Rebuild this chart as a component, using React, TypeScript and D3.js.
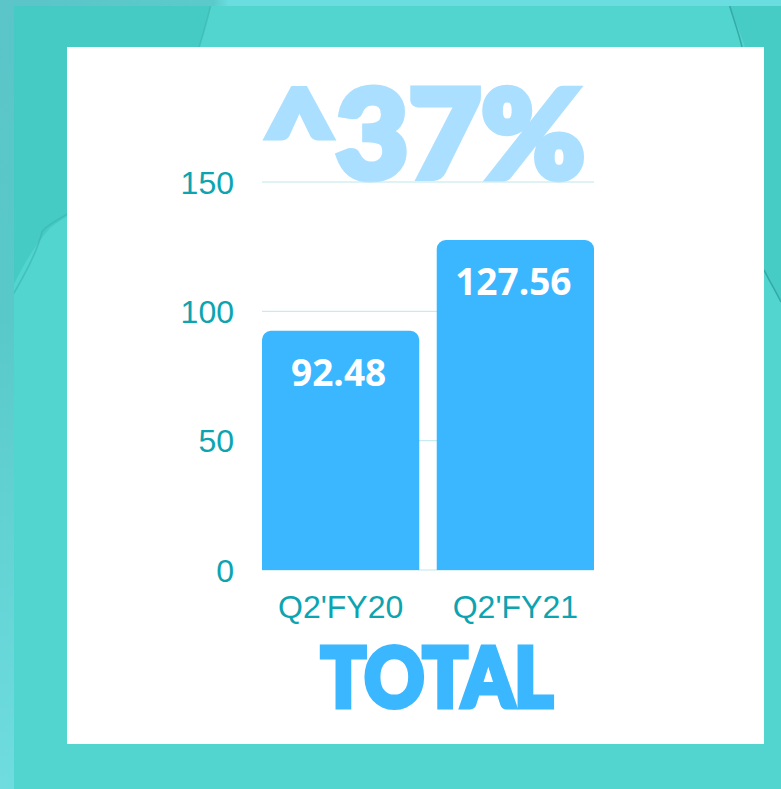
import React from "react";
import * as d3 from "d3";

const categories: string[] = ["Q2'FY20", "Q2'FY21"];
const totals: number[] = [92.48, 127.56];
const yTicks: number[] = [0, 50, 100, 150];
const headline = "^37%";
const footer = "TOTAL";

const W = 781;
const H = 789;

export default function App() {
  const x = d3.scaleBand<string>().domain(categories).range([262, 594]).paddingInner(0.1).paddingOuter(0);
  const y = d3.scaleLinear().domain([0, 150]).range([570, 182]);
  const r = 9;

  const barPath = (cat: string, v: number) => {
    const x0 = x(cat)!;
    const w = x.bandwidth();
    const y0 = y(v);
    const yb = y(0);
    const p = d3.path();
    p.moveTo(x0, yb);
    p.lineTo(x0, y0 + r);
    p.arcTo(x0, y0, x0 + r, y0, r);
    p.lineTo(x0 + w - r, y0);
    p.arcTo(x0 + w, y0, x0 + w, y0 + r, r);
    p.lineTo(x0 + w, yb);
    p.closePath();
    return p.toString();
  };

  return (
    <svg
      width={W}
      height={H}
      viewBox={`0 0 ${W} ${H}`}
      style={{ position: "absolute", left: 0, top: 0, display: "block" }}
    >
      <defs>
        <linearGradient id="leftStrip" x1="0" y1="0" x2="0" y2="1">
          <stop offset="0" stopColor="#5bc5c9" />
          <stop offset="0.4" stopColor="#58c9c8" />
          <stop offset="1" stopColor="#6fdde0" />
        </linearGradient>
        <linearGradient id="topStrip" x1="0" y1="0" x2="1" y2="0">
          <stop offset="0" stopColor="#5bc5c9" />
          <stop offset="0.26" stopColor="#5ccaca" />
          <stop offset="0.28" stopColor="#6adde0" />
          <stop offset="1" stopColor="#6adde0" />
        </linearGradient>
      </defs>
      {/* background */}
      <rect x={0} y={0} width={W} height={H} fill="#51d5ce" />
      <path d="M0,0 L212,0 C205,30 190,90 150,150 C120,190 80,205 50,228 C30,250 15,280 0,315 Z" fill="#45cac4" />
      <path d="M212,0 C205,30 190,90 150,150" fill="none" stroke="#3bb5ae" strokeWidth={1.5} opacity={0.6} />
      <path d="M70,212 C55,222 45,226 42,232 C35,260 15,290 0,318" fill="none" stroke="#3ab2ab" strokeWidth={1.5} opacity={0.6} />
      <path d="M728,0 L781,0 L781,300 C775,290 768,280 764,272 L764,47 L745,47 C740,30 732,15 728,0 Z" fill="#46cbc5" />
      <path d="M728,0 C732,15 738,30 742,47" fill="none" stroke="#2f9f9a" strokeWidth={1.5} opacity={0.8} />
      <path d="M764,270 C770,282 776,292 781,302" fill="none" stroke="#2f9f9a" strokeWidth={1.5} opacity={0.8} />
      <rect x={0} y={0} width={14} height={H} fill="url(#leftStrip)" />
      <rect x={14} y={0} width={W - 14} height={6} fill="url(#topStrip)" />

      {/* white panel */}
      <rect x={67} y={47} width={697} height={697} fill="#ffffff" />

      {/* headline */}
      <text
        x={263}
        y={178}
        textLength={322}
        lengthAdjust="spacingAndGlyphs"
        fontFamily="Lato, 'Open Sans', sans-serif"
        fontWeight={900}
        fontSize={122}
        fill="#abdfff"
        stroke="#abdfff"
        strokeWidth={7}
        strokeLinejoin="miter"
      >
        {headline}
      </text>

      {/* gridlines */}
      {yTicks.map((t) => (
        <line key={"g" + t} x1={262} x2={594} y1={y(t)} y2={y(t)} stroke="#bfe7ec" strokeWidth={1} />
      ))}

      {/* bars */}
      {categories.map((c, i) => (
        <path key={c} d={barPath(c, totals[i])} fill="#3bb7ff" />
      ))}

      {/* value labels */}
      {categories.map((c, i) => (
        <text
          key={"v" + c}
          x={x(c)! + x.bandwidth() / 2 - 2}
          y={y(totals[i]) + 55}
          textAnchor="middle"
          fontFamily="'Open Sans', sans-serif"
          fontWeight={700}
          fontSize={37}
          fill="#ffffff"
        >
          {totals[i].toFixed(2)}
        </text>
      ))}

      {/* y tick labels */}
      {yTicks.map((t) => (
        <text
          key={"t" + t}
          x={234}
          y={y(t) + 11.5}
          textAnchor="end"
          fontFamily="'Liberation Sans', Arial, sans-serif"
          fontSize={32}
          fill="#0ca4b0"
        >
          {t}
        </text>
      ))}

      {/* x labels */}
      {categories.map((c) => (
        <text
          key={"x" + c}
          x={x(c)! + x.bandwidth() / 2}
          y={618}
          textAnchor="middle"
          fontFamily="'Liberation Sans', Arial, sans-serif"
          fontSize={32}
          fill="#0ca4b0"
        >
          {c}
        </text>
      ))}

      {/* footer */}
      <text
        x={321}
        y={707}
        textLength={232}
        lengthAdjust="spacingAndGlyphs"
        fontFamily="Lato, 'Open Sans', sans-serif"
        fontWeight={900}
        fontSize={81}
        fill="#3bb7ff"
        stroke="#3bb7ff"
        strokeWidth={5}
        strokeLinejoin="miter"
      >
        {footer}
      </text>
    </svg>
  );
}
